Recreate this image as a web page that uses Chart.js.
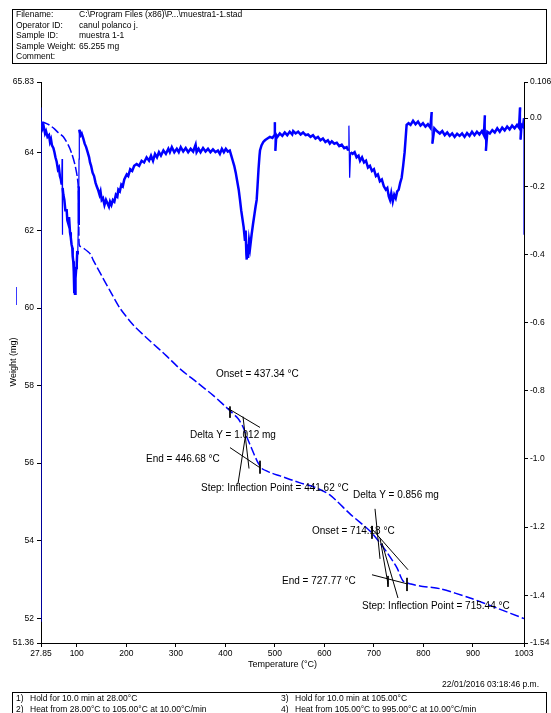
<!DOCTYPE html>
<html>
<head>
<meta charset="utf-8">
<script src="https://cdn.jsdelivr.net/npm/chart.js@4.4.0/dist/chart.umd.min.js"></script>
<style>
  body { margin: 0; background: #fff; }
  #grafico { display: block; }
</style>
</head>
<body>
<canvas id="grafico" width="551" height="713"></canvas>
<script>
// Curva de peso (mg) contra temperatura (°C)
const tempPeso = [27.85, 35, 45, 55, 63, 72.9, 83, 89.8, 96.5, 101.1, 103.5, 104.6, 106, 115, 127, 133.5, 150, 167, 187, 215, 248, 280,
  308.5, 342, 376, 409.4, 425.6, 435, 443.8, 454, 464, 474, 490, 510.4, 551, 580, 611, 651.7, 692, 712.3, 728.4, 746.6, 758.7,
  775, 793, 833.4, 894, 948.5, 1003];
const peso = [64.80, 64.78, 64.72, 64.62, 64.52, 64.42, 64.20, 63.99, 63.69, 63.38, 63.04, 61.70, 61.60, 61.53, 61.40, 61.23, 60.84, 60.45, 60.00, 59.55, 59.15, 58.78,
  58.43, 58.09, 57.74, 57.35, 57.15, 56.95, 56.66, 56.35, 56.06, 55.86, 55.76, 55.67, 55.49, 55.38, 55.18, 54.69, 54.25, 53.94, 53.66, 53.30, 52.96,
  52.88, 52.83, 52.76, 52.52, 52.26, 51.99];

// Derivada del peso (eje derecho)
const tempDeriv = [27.85, 27.85, 27.85, 29.3, 31, 33, 36, 38, 41, 44, 46, 48, 50, 53, 55, 57, 59.5, 62, 64, 66, 68, 69.6, 70.4, 71, 71.5,
  73, 75, 77, 79.7, 81, 83, 84.5, 86.4, 88, 89.5, 91, 91.8, 93, 94, 95, 95.6, 96.5, 97.5, 99, 100, 101, 102, 103.2, 103.8, 104.3, 104.6, 105.2,
  106, 108, 110, 113.3, 116, 119, 122, 125, 126.8, 129, 132, 135, 138, 140.3, 143, 146, 148, 150.4, 153, 156, 159, 162, 165, 167.2, 170,
  173, 176, 179, 182, 184, 187, 190, 193, 196, 200.9, 204, 208, 212, 216, 221, 226, 231, 236, 241, 246, 250, 254, 258, 262, 266, 270,
  275, 280, 285, 288, 292, 297, 302, 306, 310, 315, 320, 325, 330, 335, 340, 342, 346, 350, 355, 360, 365, 370, 375, 380, 385, 389,
  393, 397, 401, 405, 409, 412, 415, 418, 421, 424, 427, 429.6, 432, 435, 437, 439.7, 441, 442.5, 443.2, 444.5, 446, 448, 450, 453.2,
  456, 459, 461, 463.3, 465, 467, 469, 470, 473, 476.7, 480, 485, 490, 495, 499, 500, 501, 503, 505, 510, 515, 520, 525, 530, 535,
  537, 542, 547, 552, 557, 562, 567, 572, 577, 582, 587, 592, 597, 602, 607, 611, 615, 620, 625, 630, 635, 640, 645, 648, 649.5, 651,
  653, 657, 661, 665, 669, 672, 676, 680, 684, 688, 692, 696, 700, 704, 708, 712, 716, 720, 724, 727, 730, 732.5, 735, 738, 741, 744,
  747, 750, 753, 756, 759, 762, 764, 766, 770, 774, 779, 784, 789, 794, 799, 804, 809, 814, 816.6, 818, 822, 827, 833, 838, 843, 848,
  853, 858, 863, 868, 873, 878, 883, 888, 893, 898, 903, 908, 913, 918, 922, 924, 926, 929, 934, 939, 944, 949, 954, 959, 964, 969,
  974, 979, 984, 989, 993, 995, 996, 998, 1001, 1003, 1003];
const deriv = [0.031, -1.478, -0.012, -0.017, -0.03, -0.022, -0.045, -0.038, -0.055, -0.05, -0.07, -0.062, -0.08, -0.088, -0.1, -0.115, -0.128, -0.15, -0.145, -0.17, -0.18, -0.195, -0.12, -0.342, -0.205,
  -0.225, -0.24, -0.27, -0.27, -0.3, -0.31, -0.29, -0.335, -0.35, -0.37, -0.38, -0.405, -0.42, -0.45, -0.51, -0.46, -0.515, -0.47, -0.44, -0.43, -0.39, -0.4, -0.31, -0.26, -0.2, -0.12, -0.034,
  -0.04, -0.05, -0.045, -0.06, -0.075, -0.085, -0.1, -0.115, -0.13, -0.14, -0.16, -0.17, -0.19, -0.2, -0.21, -0.225, -0.215, -0.24, -0.235, -0.255, -0.24, -0.25, -0.26, -0.245, -0.255,
  -0.24, -0.245, -0.225, -0.23, -0.21, -0.215, -0.195, -0.2, -0.18, -0.165, -0.17, -0.15, -0.155, -0.14, -0.135, -0.14, -0.125, -0.13, -0.115, -0.125, -0.11, -0.125, -0.105, -0.115, -0.1, -0.11,
  -0.095, -0.105, -0.09, -0.1, -0.085, -0.1, -0.09, -0.1, -0.085, -0.098, -0.088, -0.1, -0.09, -0.098, -0.078, -0.1, -0.09, -0.1, -0.088, -0.098, -0.09, -0.1, -0.092, -0.1, -0.095, -0.105,
  -0.09, -0.1, -0.09, -0.098, -0.095, -0.11, -0.125, -0.14, -0.16, -0.185, -0.21, -0.24, -0.27, -0.3, -0.32, -0.36, -0.33, -0.4, -0.415, -0.37, -0.41, -0.36, -0.38, -0.34,
  -0.31, -0.28, -0.26, -0.24, -0.2, -0.15, -0.11, -0.095, -0.08, -0.07, -0.065, -0.06, -0.055, -0.058, -0.05, -0.012, -0.096, -0.05, -0.055, -0.045, -0.052, -0.042, -0.05, -0.04, -0.048,
  -0.038, -0.045, -0.04, -0.048, -0.042, -0.05, -0.048, -0.055, -0.05, -0.06, -0.055, -0.065, -0.06, -0.07, -0.065, -0.075, -0.068, -0.075, -0.072, -0.082, -0.078, -0.088, -0.085, -0.095, -0.022, -0.175,
  -0.1, -0.105, -0.1, -0.115, -0.11, -0.125, -0.115, -0.13, -0.125, -0.145, -0.14, -0.155, -0.15, -0.17, -0.165, -0.185, -0.18, -0.2, -0.21, -0.205, -0.23, -0.24, -0.22, -0.245, -0.225, -0.235,
  -0.215, -0.21, -0.19, -0.175, -0.14, -0.1, -0.06, -0.02, -0.015, -0.02, -0.008, -0.018, -0.01, -0.022, -0.015, -0.025, -0.018, -0.028, 0.018, -0.075, -0.03, -0.038, -0.045, -0.038, -0.05, -0.042,
  -0.052, -0.045, -0.055, -0.046, -0.052, -0.045, -0.055, -0.044, -0.052, -0.04, -0.05, -0.04, -0.048, -0.038, -0.05, 0.008, -0.096, -0.04, -0.045, -0.035, -0.042, -0.03, -0.04, -0.028, -0.036, -0.025,
  -0.033, -0.022, -0.03, -0.02, -0.028, 0.031, -0.063, -0.02, -0.025, 0.0, -0.342];

// Valores de los ticks
const ticksTemp = [27.85, 100, 200, 300, 400, 500, 600, 700, 800, 900, 1003];
const ticksPeso = [51.36, 52, 54, 56, 58, 60, 62, 64, 65.83];
const ticksDeriv = [-1.54, -1.4, -1.2, -1.0, -0.8, -0.6, -0.4, -0.2, 0.0, 0.106];

// Tangentes y marcas de los dos pasos (temp, peso)
const tangentes = [
  [[405.4, 57.41], [470.0, 56.92]],
  [[409.4, 56.40], [470.0, 55.88]],
  [[435.7, 57.20], [447.8, 55.86]],
  [[441.7, 56.79], [425.6, 55.47]],
  [[409.4, 57.46], [409.4, 57.17]],
  [[470.0, 56.06], [470.0, 55.73]],
  [[694.1, 54.33], [768.8, 53.25]],
  [[696.1, 53.12], [768.8, 52.88]],
  [[702.2, 54.82], [712.3, 53.53]],
  [[712.3, 54.07], [728.4, 52.88]],
  [[716.3, 53.94], [748.6, 52.52]],
  [[696.1, 54.38], [696.1, 54.05]],
  [[728.4, 53.09], [728.4, 52.81]],
  [[766.8, 53.04], [766.8, 52.70]]
];

// Textos de los pasos y su punto de anclaje (temp, peso)
const textosPaso = ["Onset = 437.34 °C", "Delta Y = 1.012 mg", "End = 446.68 °C", "Step: Inflection Point = 441.62 °C",
  "Delta Y = 0.856 mg", "Onset = 714.18 °C", "End = 727.77 °C", "Step: Inflection Point = 715.44 °C"];
const anclaTemp = [381.2, 328.7, 239.8, 350.9, 657.8, 575.0, 514.4, 675.9];
const anclaPeso = [58.28, 56.73, 56.09, 55.34, 55.16, 54.23, 52.94, 52.31];

const encabezado = [
  ["Filename:", "C:\\Program Files (x86)\\P...\\muestra1-1.stad"],
  ["Operator ID:", "canul polanco j."],
  ["Sample ID:", "muestra 1-1"],
  ["Sample Weight:", "65.255 mg"],
  ["Comment:", ""]
];
const metodo = [
  ["1)", "Hold for 10.0 min at 28.00°C"],
  ["2)", "Heat from 28.00°C to 105.00°C at 10.00°C/min"],
  ["3)", "Hold for 10.0 min at 105.00°C"],
  ["4)", "Heat from 105.00°C to 995.00°C at 10.00°C/min"]
];
const fecha = "22/01/2016 03:18:46 p.m.";

const FUENTE = '"Liberation Sans", Arial, sans-serif';
const AZUL = "#0000ff";

function puntos(xs, ys) {
  return xs.map((v, i) => ({ x: v, y: ys[i] }));
}

let datasets = [
  {
    label: "Weight",
    data: puntos(tempPeso, peso),
    yAxisID: "y",
    borderColor: AZUL,
    borderWidth: 1.5,
    borderDash: [9, 3],
    pointRadius: 0,
    tension: 0.25
  },
  {
    label: "Deriv. Weight",
    data: puntos(tempDeriv, deriv),
    yAxisID: "y2",
    borderColor: AZUL,
    borderWidth: 2.5,
    pointRadius: 0,
    tension: 0,
    // los picos casi verticales del ruido van más finos
    segment: {
      borderWidth: (c) => (Math.abs(c.p1.x - c.p0.x) < 1.2 && Math.abs(c.p1.y - c.p0.y) > 24) ? 1.2 : 2.5
    }
  }
];

// Una línea negra por cada tangente
tangentes.forEach((seg) => {
  datasets.unshift({
    data: seg.map((p) => ({ x: p[0], y: p[1] })),
    yAxisID: "y",
    borderColor: "#000",
    borderWidth: 1,
    pointRadius: 0
  });
});

// Dibuja encabezado, pie, títulos de ejes y textos de los pasos
const textosExtra = {
  id: "textosExtra",
  afterDraw(chart) {
    const ctx = chart.ctx;
    const sx = chart.scales.x;
    const sy = chart.scales.y;
    ctx.save();
    ctx.fillStyle = "#000";
    ctx.strokeStyle = "#000";
    ctx.lineWidth = 1;
    ctx.textBaseline = "middle";
    ctx.textAlign = "left";

    // Encabezado
    ctx.strokeRect(12.5, 9.5, 534, 54);
    ctx.font = "8.5px " + FUENTE;
    encabezado.forEach((fila, i) => {
      const yy = 15 + i * 10.5;
      ctx.fillText(fila[0], 16, yy);
      ctx.fillText(fila[1], 79, yy);
    });

    // Textos de los pasos
    ctx.font = "10px " + FUENTE;
    textosPaso.forEach((t, i) => {
      ctx.fillText(t, sx.getPixelForValue(anclaTemp[i]), sy.getPixelForValue(anclaPeso[i]));
    });

    // Títulos de ejes
    ctx.font = "9px " + FUENTE;
    ctx.textAlign = "center";
    ctx.fillText("Temperature (°C)", (chart.chartArea.left + chart.chartArea.right) / 2, 665);
    ctx.save();
    ctx.translate(14, 362);
    ctx.rotate(-Math.PI / 2);
    ctx.fillText("Weight (mg)", 0, 0);
    ctx.restore();

    // Marca de la leyenda
    ctx.strokeStyle = "#3a3aff";
    ctx.beginPath();
    ctx.moveTo(16.5, 287);
    ctx.lineTo(16.5, 305);
    ctx.stroke();
    ctx.strokeStyle = "#000";

    // Fecha y método
    ctx.font = "8.5px " + FUENTE;
    ctx.textAlign = "right";
    ctx.fillText(fecha, 539, 685);
    ctx.textAlign = "left";
    ctx.strokeRect(12.5, 692.5, 534, 30);
    metodo.forEach((m, i) => {
      const col = i < 2 ? 16 : 281;
      const yy = 699 + (i % 2) * 10.5;
      ctx.fillText(m[0], col, yy);
      ctx.fillText(m[1], col + 14, yy);
    });
    ctx.restore();
  }
};

function etiquetaTemp(v) {
  return v === 27.85 ? "27.85" : String(v);
}
function etiquetaPeso(v) {
  return (v === 65.83 || v === 51.36) ? v.toFixed(2) : String(v);
}
function etiquetaDeriv(v) {
  if (v === 0.106) return "0.106";
  if (v === -1.54) return "-1.54";
  return v.toFixed(1);
}

const ejeComun = {
  type: "linear",
  grid: { display: true, drawOnChartArea: false, drawTicks: true, tickLength: 4, color: "#000" },
  border: { display: true, color: "#000", width: 1 }
};

const ctx = document.getElementById("grafico").getContext("2d");
new Chart(ctx, {
  type: "line",
  data: { datasets: datasets },
  options: {
    responsive: false,
    animation: false,
    devicePixelRatio: 1,
    layout: { padding: { top: 82, left: 0, right: 0, bottom: 0 } },
    plugins: { legend: { display: false }, tooltip: { enabled: false } },
    scales: {
      x: Object.assign({}, ejeComun, {
        position: "bottom",
        min: 27.85,
        max: 1003,
        afterBuildTicks: (s) => { s.ticks = ticksTemp.map((v) => ({ value: v })); },
        afterFit: (s) => { s.height = 70; },
        ticks: {
          autoSkip: false, maxRotation: 0, padding: 2, color: "#000",
          font: { family: FUENTE, size: 8.5 },
          callback: (v) => etiquetaTemp(v)
        }
      }),
      y: Object.assign({}, ejeComun, {
        position: "left",
        min: 51.36,
        max: 65.83,
        afterBuildTicks: (s) => { s.ticks = ticksPeso.map((v) => ({ value: v })); },
        afterFit: (s) => { s.width = 41; },
        ticks: {
          autoSkip: false, padding: 3, color: "#000",
          font: { family: FUENTE, size: 8.5 },
          callback: (v) => etiquetaPeso(v)
        }
      }),
      y2: Object.assign({}, ejeComun, {
        position: "right",
        min: -1.54,
        max: 0.106,
        afterBuildTicks: (s) => { s.ticks = ticksDeriv.map((v) => ({ value: v })); },
        afterFit: (s) => { s.width = 27; },
        ticks: {
          autoSkip: false, padding: 2, color: "#000",
          font: { family: FUENTE, size: 8.5 },
          callback: (v) => etiquetaDeriv(v)
        }
      })
    }
  },
  plugins: [textosExtra]
});
</script>
</body>
</html>
